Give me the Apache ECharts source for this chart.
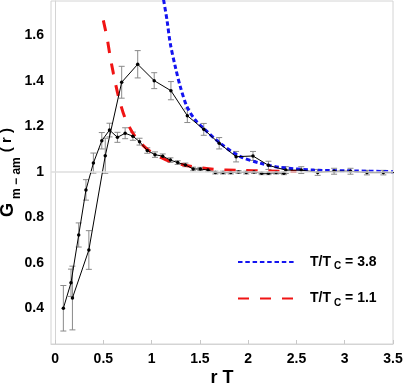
<!DOCTYPE html>
<html>
<head>
<meta charset="utf-8">
<script src="https://cdn.jsdelivr.net/npm/echarts@6/dist/echarts.min.js"></script>
<style>
  html, body { margin: 0; padding: 0; background: #fff; }
  #chart { width: 403px; height: 387px; }
</style>
</head>
<body>
<div id="chart"></div>
<script>
// lattice data, T/Tc = 1.1 (dense points)
const xs1 = [0.086, 0.165, 0.245, 0.32, 0.397, 0.484, 0.564, 0.646, 0.726, 0.806, 0.875, 0.955, 1.035, 1.115, 1.195, 1.27, 1.35, 1.43, 1.505, 1.584, 1.66, 1.74, 1.82, 1.90, 1.98, 2.06, 2.14, 2.21, 2.29, 2.37]
const ys1 = [0.40, 0.512, 0.722, 0.92, 1.038, 1.136, 1.183, 1.151, 1.169, 1.156, 1.132, 1.093, 1.075, 1.068, 1.051, 1.040, 1.030, 1.012, 1.012, 1.007, 0.996, 0.996, 0.996, 0.999, 0.996, 0.999, 0.993, 0.993, 0.996, 0.993]
const err1 = [0.10, 0.06, 0.053, 0.045, 0.044, 0.036, 0.03, 0.022, 0.024, 0.018, 0.015, 0.012, 0.012, 0.01, 0.01, 0.008, 0.008, 0.008, 0.007, 0.007, 0.006, 0.006, 0.006, 0.006, 0.006, 0.006, 0.006, 0.006, 0.006, 0.006]

// lattice data, T/Tc = 3.8 (sparse points)
const xs2 = [0.18, 0.35, 0.52, 0.69, 0.856, 1.027, 1.20, 1.37, 1.54, 1.70, 1.875, 2.05, 2.21, 2.39, 2.55, 2.72, 2.89, 3.06, 3.23, 3.40, 3.57]
const ys2 = [0.445, 0.656, 1.07, 1.393, 1.472, 1.40, 1.356, 1.246, 1.186, 1.125, 1.066, 1.069, 1.028, 1.007, 1.007, 0.997, 1.002, 1.002, 0.996, 0.996, 0.996]
const err2 = [0.14, 0.085, 0.077, 0.07, 0.06, 0.035, 0.04, 0.03, 0.026, 0.025, 0.023, 0.02, 0.018, 0.015, 0.015, 0.013, 0.013, 0.013, 0.01, 0.01, 0]

// fit curves
const blueX = [1.124, 1.159, 1.193, 1.245, 1.297, 1.366, 1.452, 1.54, 1.71, 1.92, 2.13, 2.33, 2.68, 3.03, 3.5]
const blueY = [1.755, 1.667, 1.564, 1.462, 1.374, 1.286, 1.227, 1.19, 1.125, 1.066, 1.037, 1.019, 1.007, 1.004, 1.0]
const redX = [0.50, 0.54, 0.571, 0.605, 0.657, 0.726, 0.83, 0.951, 1.055, 1.16, 1.3, 1.43, 1.65, 1.9, 2.2, 2.5]
const redY = [1.665, 1.585, 1.505, 1.43, 1.33, 1.235, 1.154, 1.100, 1.073, 1.050, 1.033, 1.022, 1.010, 1.006, 1.003, 1.001]

const xTicks = [0, 0.5, 1, 1.5, 2, 2.5, 3, 3.5]
const yTicks = [0.4, 0.6, 0.8, 1, 1.2, 1.4, 1.6]

const FONT = '"Liberation Sans", Arial, sans-serif'

function zip(a, b) {
  return a.map((v, i) => [v, b[i]])
}

function bars(xs, ys, es) {
  return xs.map((x, i) => [x, ys[i] - es[i], ys[i] + es[i]])
}

function renderBar(params, api) {
  const lo = api.coord([api.value(0), api.value(1)])
  const hi = api.coord([api.value(0), api.value(2)])
  const c = 3
  const style = { stroke: '#8a8a8a', lineWidth: 1 }
  return {
    type: 'group',
    children: [
      { type: 'line', shape: { x1: lo[0], y1: lo[1], x2: hi[0], y2: hi[1] }, style },
      { type: 'line', shape: { x1: lo[0] - c, y1: lo[1], x2: lo[0] + c, y2: lo[1] }, style },
      { type: 'line', shape: { x1: hi[0] - c, y1: hi[1], x2: hi[0] + c, y2: hi[1] }, style }
    ]
  }
}

const chart = echarts.init(document.getElementById('chart'))
chart.setOption({
  animation: false,
  backgroundColor: '#fff',
  textStyle: { fontFamily: FONT },
  grid: {
    left: 51,
    right: 10,
    top: 1,
    bottom: 43,
    containLabel: false,
    outerBoundsMode: 'none',
    show: true,
    borderColor: '#d4d4d4',
    borderWidth: 1
  },
  legend: {
    data: ['T/Tc = 3.8', 'T/Tc = 1.1'],
    orient: 'vertical',
    left: 237,
    top: 255,
    padding: 0,
    itemWidth: 58,
    itemHeight: 14,
    itemGap: 20,
    itemStyle: { opacity: 0, borderWidth: 0 },
    formatter: name => '{a|T/T}{s|C}{b|' + name.slice(4) + '}',
    textStyle: {
      rich: {
        a: { fontSize: 14, fontWeight: 'bold', color: '#000', fontFamily: FONT, padding: [0, 0, 0, 9] },
        s: { fontSize: 10, fontWeight: 'bold', color: '#000', fontFamily: FONT, padding: [9, 0, 0, 3] },
        b: { fontSize: 14, fontWeight: 'bold', color: '#000', fontFamily: FONT }
      }
    }
  },
  xAxis: {
    type: 'value',
    min: -0.042,
    max: 3.5,
    name: 'r T',
    nameLocation: 'middle',
    nameGap: 25,
    nameMoveOverlap: false,
    nameTextStyle: { fontSize: 18, fontWeight: 'bold', color: '#000', fontFamily: FONT },
    axisLine: { show: true, lineStyle: { color: '#d4d4d4' } },
    axisTick: { show: true, inside: true, length: 4, customValues: xTicks, lineStyle: { color: '#c8c8c8' } },
    axisLabel: {
      customValues: xTicks,
      formatter: v => String(v),
      fontSize: 14,
      fontWeight: 'bold',
      color: '#000',
      margin: 8
    },
    splitLine: { show: false }
  },
  yAxis: {
    type: 'value',
    min: 0.243,
    max: 1.75,
    name: '{g|G}{s|m − am}{p|( r )}',
    nameLocation: 'middle',
    nameGap: 32,
    nameMoveOverlap: false,
    nameTextStyle: {
      color: '#000',
      rich: {
        g: { fontSize: 18, fontWeight: 'bold', color: '#000', fontFamily: FONT, lineHeight: 20, verticalAlign: 'top' },
        s: { fontSize: 12, fontWeight: 'bold', color: '#000', fontFamily: FONT, lineHeight: 12, verticalAlign: 'top', padding: [12, 5, 0, 4] },
        p: { fontSize: 15, fontWeight: 'bold', color: '#000', fontFamily: FONT, lineHeight: 20, verticalAlign: 'top' }
      }
    },
    axisLine: { show: true, lineStyle: { color: '#d4d4d4' } },
    axisTick: { show: false },
    axisLabel: {
      customValues: yTicks,
      formatter: v => String(v),
      fontSize: 14,
      fontWeight: 'bold',
      color: '#000',
      margin: 7
    },
    splitLine: { show: false }
  },
  series: [
    {
      name: 'T/Tc = 3.8',
      type: 'line',
      data: zip(blueX, blueY),
      smooth: 0.3,
      symbol: 'none',
      clip: true,
      z: 3,
      lineStyle: { color: '#1414f0', width: 3, type: [4.5, 2.8] },
      itemStyle: { color: '#1414f0' },
      markLine: {
        silent: true,
        symbol: 'none',
        label: { show: false },
        lineStyle: { color: '#dedede', width: 1.5, type: 'solid' },
        data: [{ yAxis: 1 }]
      }
    },
    {
      name: 'T/Tc = 1.1',
      type: 'line',
      data: zip(redX, redY),
      smooth: 0.3,
      symbol: 'none',
      clip: true,
      z: 3,
      lineStyle: { color: '#f01414', width: 3, type: [11, 11] },
      itemStyle: { color: '#f01414' }
    },
    {
      name: 'err1',
      type: 'custom',
      renderItem: renderBar,
      data: bars(xs1, ys1, err1),
      clip: true,
      z: 2
    },
    {
      name: 'err2',
      type: 'custom',
      renderItem: renderBar,
      data: bars(xs2, ys2, err2),
      clip: true,
      z: 2
    },
    {
      name: 'lat1',
      type: 'line',
      data: zip(xs1, ys1),
      symbol: 'circle',
      symbolSize: 3.5,
      clip: true,
      z: 4,
      lineStyle: { color: '#000', width: 1 },
      itemStyle: { color: '#000' }
    },
    {
      name: 'lat2',
      type: 'line',
      data: zip(xs2, ys2),
      symbol: 'circle',
      symbolSize: 3.5,
      clip: true,
      z: 4,
      lineStyle: { color: '#000', width: 1 },
      itemStyle: { color: '#000' }
    }
  ]
})
</script>
</body>
</html>
